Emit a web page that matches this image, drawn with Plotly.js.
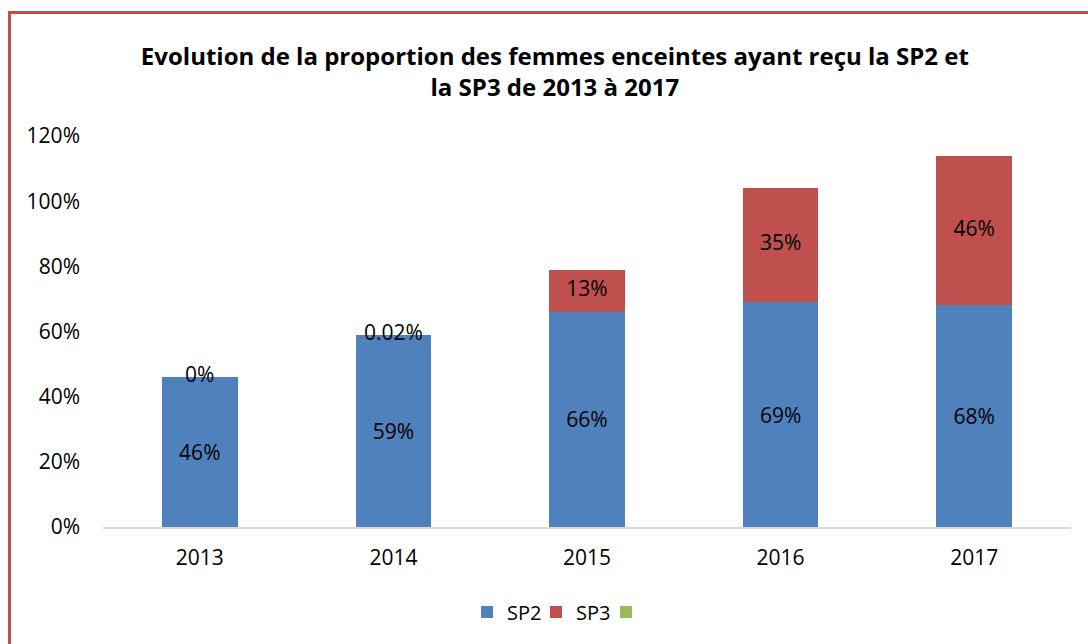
<!DOCTYPE html>
<html>
<head>
<meta charset="utf-8">
<script src="https://cdn.plot.ly/plotly-3.0.1.min.js"></script>
<style>
  html, body { margin: 0; padding: 0; background: #fff; }
  #chart { width: 1088px; height: 644px; position: absolute; left: 0; top: 0; }
  #frame { position: absolute; left: 8px; top: 11px; width: 1200px; height: 800px;
           border-left: 3px solid #C0504D; border-top: 3px solid #C0504D; pointer-events: none; }
</style>
</head>
<body>
<div id="chart"></div>
<div id="frame"></div>
<script>
const years = ['2013', '2014', '2015', '2016', '2017'];
const sp2 = [0.46, 0.59, 0.66, 0.69, 0.68];
const sp3 = [0, 0.0002, 0.13, 0.35, 0.46];
const sp2Labels = ['46%', '59%', '66%', '69%', '68%'];
const sp3Labels = ['0%', '0.02%', '13%', '35%', '46%'];
const thirdSeries = [null, null, null, null, null];
const yTicks = [0, 0.2, 0.4, 0.6, 0.8, 1.0, 1.2];
const yTickLabels = ['0%', '20%', '40%', '60%', '80%', '100%', '120%'];

const FONT = '"Open Sans", "Noto Sans", sans-serif';
const sp3Mid = sp2.map((v, i) => v + sp3[i] / 2);

const traces = [
  {
    type: 'bar', name: 'SP2', x: years, y: sp2, legend: 'legend',
    marker: { color: '#4F81BD' },
    text: sp2Labels, texttemplate: '%{text}', textposition: 'inside',
    insidetextanchor: 'middle', constraintext: 'none',
    textfont: { family: FONT, size: 21, color: '#000' },
    hoverinfo: 'skip'
  },
  {
    type: 'bar', name: 'SP3', x: years, y: sp3, legend: 'legend2',
    marker: { color: '#C0504D' },
    hoverinfo: 'skip'
  },
  {
    type: 'bar', name: ' ', x: years, y: thirdSeries, legend: 'legend3',
    marker: { color: '#9BBB59' },
    hoverinfo: 'skip'
  },
  {
    type: 'scatter', mode: 'text', x: years, y: sp3Mid,
    text: sp3Labels, textposition: 'middle center',
    textfont: { family: FONT, size: 21, color: '#000' },
    showlegend: false, hoverinfo: 'skip'
  }
];

function legendAt(left) {
  return {
    orientation: 'h', x: left / 1088, xref: 'container', xanchor: 'left',
    y: 1 - 612 / 644, yref: 'container', yanchor: 'middle',
    font: { family: FONT, size: 20, color: '#000' },
    itemwidth: 30, bgcolor: 'rgba(0,0,0,0)'
  };
}

const layout = {
  width: 1088, height: 644,
  margin: { l: 103, r: 17, t: 136, b: 117 },
  paper_bgcolor: '#fff', plot_bgcolor: '#fff',
  barmode: 'stack',
  bargap: 0.61,
  font: { family: FONT, size: 20, color: '#000' },
  title: {
    text: '<b>Evolution de la proportion des femmes enceintes ayant reçu la SP2 et<br>la SP3 de 2013 à 2017</b>',
    font: { family: FONT, size: 24, color: '#000' },
    x: 0.51, xref: 'container', xanchor: 'center',
    y: 1 - 65 / 644, yref: 'container', yanchor: 'middle'
  },
  xaxis: {
    type: 'category', showgrid: false, zeroline: false,
    showline: true, linecolor: '#D9D9D9', linewidth: 2,
    ticks: '', ticklabelstandoff: 11,
    tickfont: { family: FONT, size: 21, color: '#000' }
  },
  yaxis: {
    range: [0, 1.2], showgrid: false, zeroline: false, showline: false,
    tickvals: yTicks, ticktext: yTickLabels, ticks: '',
    ticklabelstandoff: 22,
    tickfont: { family: FONT, size: 21, color: '#000' }
  },
  showlegend: true,
  legend: legendAt(467),
  legend2: legendAt(536),
  legend3: legendAt(606)
};

Plotly.newPlot('chart', traces, layout, { staticPlot: true });
</script>
</body>
</html>
